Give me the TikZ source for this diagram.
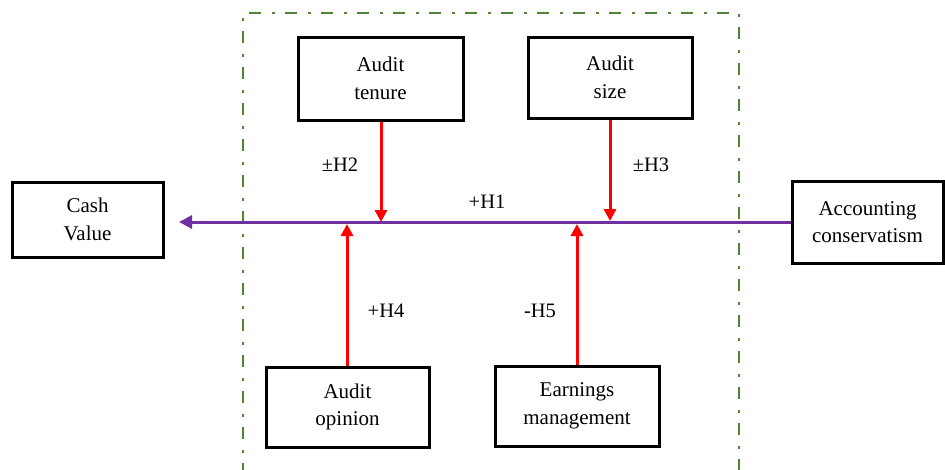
\documentclass[tikz,border=0pt]{standalone}
\usepackage{fontspec}
\setmainfont{Liberation Serif}
\usetikzlibrary{arrows.meta}
\definecolor{framegreen}{RGB}{84,130,53}
\definecolor{linepurple}{RGB}{112,48,160}
\begin{document}
\begin{tikzpicture}[x=1pt,y=-1pt,
  varbox/.style={draw=black,line width=3pt,fill=white,inner sep=0pt,align=center,font=\fontsize{21}{27.5}\selectfont},
  redarrow/.style={draw=red,line width=3pt,-{Triangle[length=12pt,width=12pt]}},
  purplearrow/.style={draw=linepurple,line width=3pt,-{Triangle[length=13pt,width=13pt]}},
  hlabel/.style={font=\fontsize{20.5}{24}\selectfont,inner sep=0pt},
  frameline/.style={draw=framegreen,line width=2.8pt,dash pattern=on 12pt off 10.5pt on 3pt off 10.5pt}]
\useasboundingbox (0,0) rectangle (945,469);
% frame
\draw[frameline] (243,475) -- (243,13) -- (739,13) -- (739,475);
% boxes
\node[varbox,minimum width=151pt,minimum height=75pt] (cash) at (87.5,219.5) {Cash\\Value};
\node[varbox,minimum width=165pt,minimum height=83pt] (tenure) at (380.5,78.5) {Audit\\tenure};
\node[varbox,minimum width=164pt,minimum height=81pt] (size) at (610,77.5) {Audit\\size};
\node[varbox,minimum width=151pt,minimum height=82pt] (cons) at (867.5,222) {Accounting\\conservatism};
\node[varbox,minimum width=163pt,minimum height=80pt] (opinion) at (347.5,407) {Audit\\opinion};
\node[varbox,minimum width=164pt,minimum height=80pt] (earn) at (577,406) {Earnings\\management};
% junction points on the main line
\coordinate (j2) at (381,222);
\coordinate (j3) at (610,221);
\coordinate (j4) at (347,224);
\coordinate (j5) at (577,224);
\coordinate (tip) at (179,222);
% main line
\draw[purplearrow] (cons.west |- tip) -- (tip);
% red arrows
\draw[redarrow] (tenure.south -| j2) -- (j2);
\draw[redarrow] (size.south -| j3) -- (j3);
\draw[redarrow] (opinion.north -| j4) -- (j4);
\draw[redarrow] (earn.north -| j5) -- (j5);
% labels
\node[hlabel] (h1) at (487,202) {+H1};
\node[hlabel] (h2) at (340,165) {±H2};
\node[hlabel] (h3) at (651,165) {±H3};
\node[hlabel] (h4) at (386,311) {+H4};
\node[hlabel] (h5) at (540,311) {-H5};
\end{tikzpicture}
\end{document}
